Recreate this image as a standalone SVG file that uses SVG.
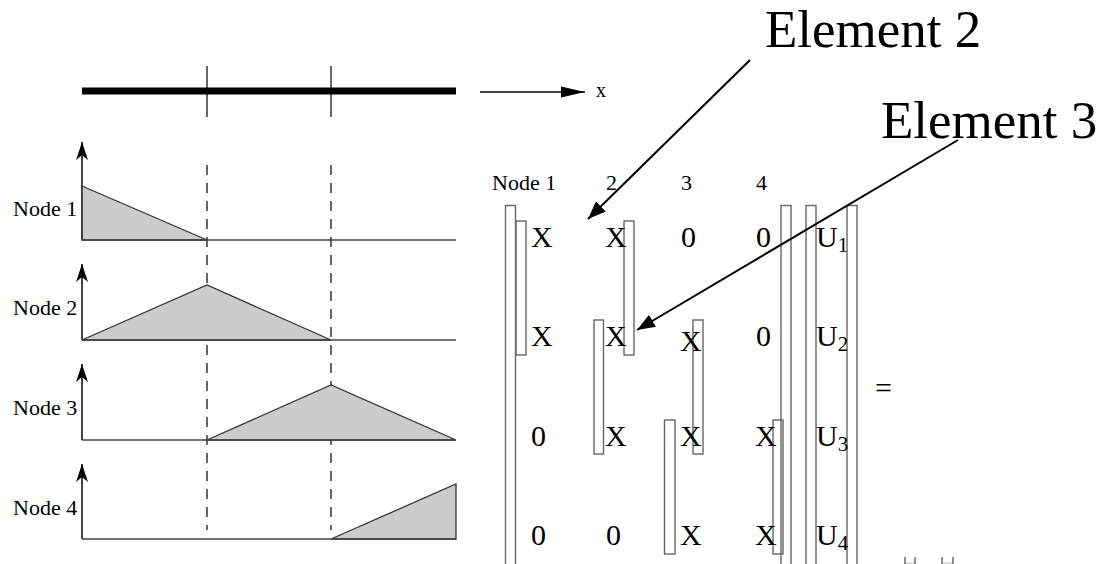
<svg xmlns="http://www.w3.org/2000/svg" width="1104" height="564" viewBox="0 0 1104 564">
<style>
text{font-family:"Liberation Serif","Times New Roman",serif;fill:#000}
.lbl{font-size:22px}
.m{font-size:30px}
.sub{font-size:21px}
.big{font-size:53px}
.br{fill:none;stroke:#666;stroke-width:1.4}
.tri{fill:#cccccc;stroke:#333;stroke-width:1.3}
.base{fill:none;stroke:#444;stroke-width:1.6}
.dash{stroke:#000;stroke-width:1.2;stroke-dasharray:10 8}
.ax{stroke:#444;stroke-width:2;fill:none}
</style>
<defs>
<marker id="ah" markerUnits="userSpaceOnUse" markerWidth="20" markerHeight="14" refX="18" refY="7" orient="auto">
<path d="M0,0 L18,7 L0,14 Z" fill="#000"/>
</marker>
<marker id="axh" markerUnits="userSpaceOnUse" markerWidth="20" markerHeight="12" refX="18" refY="6" orient="auto">
<path d="M0,0 L18,6 L0,12 L5,6 Z" fill="#000"/>
</marker>
<marker id="xh" markerUnits="userSpaceOnUse" markerWidth="26" markerHeight="12" refX="24" refY="6" orient="auto">
<path d="M0,0.5 L24,6 L0,11.5 Z" fill="#000"/>
</marker>
</defs>

<g id="bar">
<line x1="82" y1="91" x2="456" y2="91" stroke="#000" stroke-width="7"/>
<line x1="207" y1="66" x2="207" y2="117" stroke="#000" stroke-width="1.2"/>
<line x1="331" y1="66" x2="331" y2="117" stroke="#000" stroke-width="1.2"/>
</g>
<g id="x-axis">
<line x1="480" y1="92" x2="585" y2="92" stroke="#000" stroke-width="1.3" marker-end="url(#xh)"/>
<text x="596" y="97" style="font-size:20px">x</text>
</g>

<g id="dashes">
<line class="dash" x1="207" y1="165" x2="207" y2="530"/>
<line class="dash" x1="331" y1="165" x2="331" y2="530"/>
</g>

<g id="node1-shape">
<polygon class="tri" points="82,186 207,240 82,240"/>
<line class="base" x1="82" y1="240" x2="456" y2="240"/>
<line class="ax" x1="82" y1="240" x2="82" y2="142" marker-end="url(#axh)"/>
<text class="lbl" x="13" y="216">Node 1</text>
</g>
<g id="node2-shape">
<polygon class="tri" points="82,340 207,285 331,340"/>
<line class="base" x1="82" y1="340" x2="456" y2="340"/>
<line class="ax" x1="82" y1="340" x2="82" y2="264" marker-end="url(#axh)"/>
<text class="lbl" x="13" y="315">Node 2</text>
</g>
<g id="node3-shape">
<polygon class="tri" points="207,440 331,385 456,440"/>
<line class="base" x1="82" y1="440" x2="456" y2="440"/>
<line class="ax" x1="82" y1="440" x2="82" y2="364" marker-end="url(#axh)"/>
<text class="lbl" x="13" y="415">Node 3</text>
</g>
<g id="node4-shape">
<polygon class="tri" points="331,539 456,484 456,539"/>
<line class="base" x1="82" y1="539" x2="456" y2="539"/>
<line class="ax" x1="82" y1="539" x2="82" y2="464" marker-end="url(#axh)"/>
<text class="lbl" x="13" y="515">Node 4</text>
</g>

<g id="matrix-header">
<text class="lbl" x="492" y="190">Node 1</text>
<text class="lbl" x="606" y="190">2</text>
<text class="lbl" x="681" y="190">3</text>
<text class="lbl" x="756" y="190">4</text>
</g>

<g id="matrix-brackets">
<rect class="br" x="505.5" y="205.5" width="10" height="370"/>
<rect class="br" x="516" y="221" width="10" height="134"/>
<rect class="br" x="624" y="221" width="10" height="134"/>
<rect class="br" x="594" y="320" width="9.5" height="134"/>
<rect class="br" x="693" y="320" width="10" height="134"/>
<rect class="br" x="664.5" y="420" width="10.5" height="134"/>
<rect class="br" x="773" y="420" width="10" height="134"/>
<rect class="br" x="781" y="205.5" width="10" height="370"/>
<rect class="br" x="806" y="205.5" width="10" height="370"/>
<rect class="br" x="847" y="205.5" width="10" height="370"/>
</g>

<g id="matrix-entries">
<text class="m" x="531" y="247">X</text>
<text class="m" x="605" y="247">X</text>
<text class="m" x="681" y="247">0</text>
<text class="m" x="756" y="247">0</text>
<text class="m" x="531" y="346">X</text>
<text class="m" x="605" y="346">X</text>
<text class="m" x="680" y="351">X</text>
<text class="m" x="756" y="346">0</text>
<text class="m" x="531" y="446">0</text>
<text class="m" x="605" y="446">X</text>
<text class="m" x="680" y="446">X</text>
<text class="m" x="755" y="446">X</text>
<text class="m" x="531" y="545">0</text>
<text class="m" x="606" y="545">0</text>
<text class="m" x="680" y="545">X</text>
<text class="m" x="755" y="545">X</text>
</g>

<g id="vector-u">
<text class="m" x="816" y="247">U<tspan class="sub" dy="5">1</tspan></text>
<text class="m" x="816" y="346">U<tspan class="sub" dy="5">2</tspan></text>
<text class="m" x="816" y="446">U<tspan class="sub" dy="5">3</tspan></text>
<text class="m" x="816" y="545">U<tspan class="sub" dy="5">4</tspan></text>
</g>

<g id="equals">
<text class="m" x="875" y="398">=</text>
</g>

<g id="bottom-marks">
<rect x="905" y="562" width="10" height="3" fill="#ddd"/>
<rect x="942" y="562" width="11" height="3" fill="#ddd"/>
<path d="M905,557 V564 M915,557 V564 M942,557 V564 M953,557 V564" stroke="#555" stroke-width="1.3" fill="none"/>
</g>

<g id="element2">
<text class="big" x="765" y="47">Element 2</text>
</g>
<g id="element3">
<text class="big" x="881" y="138">Element 3</text>
</g>

<g id="connectors">
<line x1="750" y1="60" x2="588" y2="219" stroke="#000" stroke-width="2" marker-end="url(#ah)"/>
<line x1="958" y1="140" x2="637" y2="330" stroke="#000" stroke-width="2" marker-end="url(#ah)"/>
</g>
</svg>
